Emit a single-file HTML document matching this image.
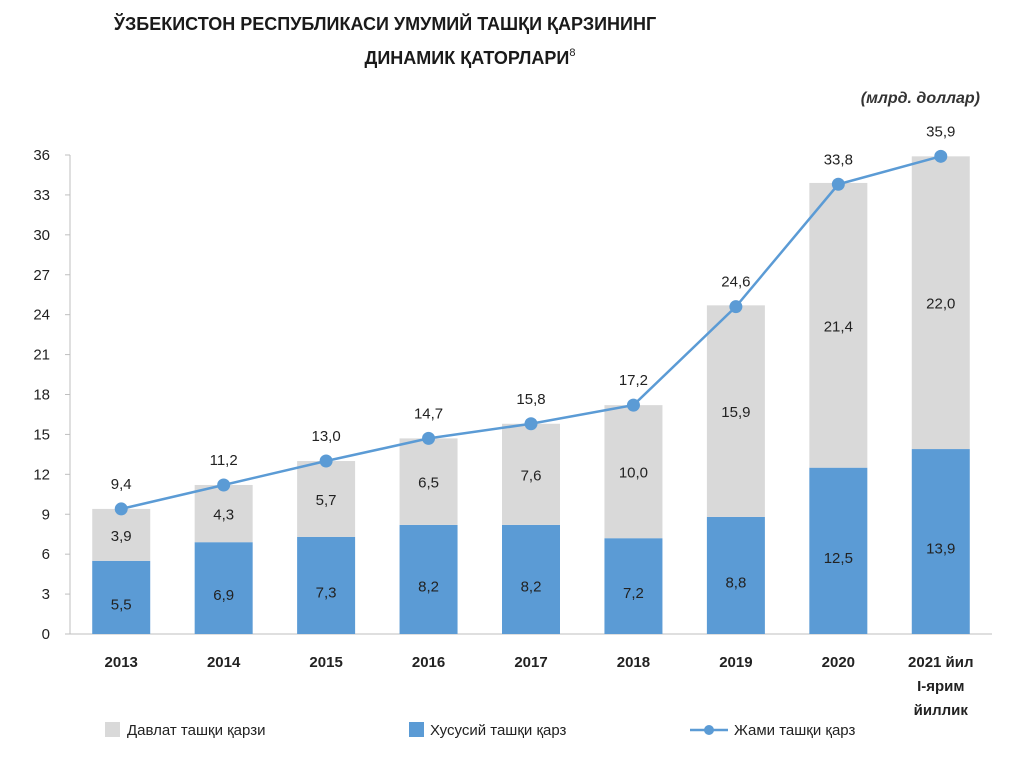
<!DOCTYPE html>
<html><head><meta charset="utf-8"><style>
body{margin:0;background:#fff;font-family:"Liberation Sans","DejaVu Sans",sans-serif;}
svg text{font-family:"Liberation Sans","DejaVu Sans",sans-serif;}
</style></head><body>
<svg id="chart" width="1024" height="765" viewBox="0 0 1024 765" xmlns="http://www.w3.org/2000/svg">
<text x="385" y="30" text-anchor="middle" font-size="18" font-weight="bold" fill="#1a1a1a">ЎЗБЕКИСТОН РЕСПУБЛИКАСИ УМУМИЙ ТАШҚИ ҚАРЗИНИНГ</text>
<text x="470" y="64" text-anchor="middle" font-size="18" font-weight="bold" fill="#1a1a1a">ДИНАМИК ҚАТОРЛАРИ<tspan font-size="11" dy="-8" font-weight="normal">8</tspan></text>
<text x="980" y="103" text-anchor="end" font-size="16" font-weight="bold" font-style="italic" fill="#333">(млрд. доллар)</text>
<g id="plot"></g>
<g>
<rect x="105" y="722" width="15" height="15" fill="#d9d9d9"/>
<text x="127" y="735" font-size="15" fill="#222">Давлат ташқи қарзи</text>
<rect x="409" y="722" width="15" height="15" fill="#5b9bd5"/>
<text x="430" y="735" font-size="15" fill="#222">Хусусий ташқи қарз</text>
<line x1="690" y1="730" x2="728" y2="730" stroke="#5b9bd5" stroke-width="2.5"/>
<circle cx="709" cy="730" r="5" fill="#5b9bd5"/>
<text x="734" y="735" font-size="15" fill="#222">Жами ташқи қарз</text>
</g>
</svg>
<script>
const categories=["2013","2014","2015","2016","2017","2018","2019","2020","2021 йил"];
const privateDebt=[5.5,6.9,7.3,8.2,8.2,7.2,8.8,12.5,13.9];
const stateDebt=[3.9,4.3,5.7,6.5,7.6,10.0,15.9,21.4,22.0];
const totalDebt=[9.4,11.2,13.0,14.7,15.8,17.2,24.6,33.8,35.9];
const yTicks=[0,3,6,9,12,15,18,21,24,27,30,33,36];
const NS="http://www.w3.org/2000/svg";
const g=document.getElementById('plot');
const left=70,right=992,y0=634,yTop=155,yMax=36;
const band=(right-left)/categories.length,bw=58;
const y=v=>y0-(v/yMax)*(y0-yTop);
const xc=i=>left+band*(i+0.5);
const fmt=v=>v.toFixed(1).replace('.',',');
function mk(tag,attrs,text){const e=document.createElementNS(NS,tag);for(const k in attrs)e.setAttribute(k,attrs[k]);if(text!==undefined)e.textContent=text;g.appendChild(e);return e;}
let ax=mk('line',{x1:left,y1:yTop,x2:left,y2:y0,stroke:'#bfbfbf'});


let bx=mk('line',{x1:left,y1:y0,x2:right,y2:y0,stroke:'#bfbfbf'});


yTicks.forEach(t=>{
 let tk=mk('line',{x1:left-5,y1:y(t),x2:left,y2:y(t),stroke:'#bfbfbf'});
 
 
 let tl=mk('text',{x:50,y:y(t)+5,'text-anchor':'end','font-size':15,fill:'#222'},String(t));
 
 
});
categories.forEach((c,i)=>{
 const x=xc(i);
 let b1=mk('rect',{x:x-bw/2,y:y(privateDebt[i]),width:bw,height:y0-y(privateDebt[i]),fill:'#5b9bd5'});
 
 
 const top=privateDebt[i]+stateDebt[i];
 let b2=mk('rect',{x:x-bw/2,y:y(top),width:bw,height:y(privateDebt[i])-y(top),fill:'#d9d9d9'});
 
 
 let l1=mk('text',{x:x,y:(y0+y(privateDebt[i]))/2+12,'text-anchor':'middle','font-size':15,fill:'#222'},fmt(privateDebt[i]));
 
 
 let l2=mk('text',{x:x,y:(y(privateDebt[i])+y(top))/2+6,'text-anchor':'middle','font-size':15,fill:'#222'},fmt(stateDebt[i]));
 
 
 let cl=mk('text',{x:x,y:667,'text-anchor':'middle','font-size':15,'font-weight':'bold',fill:'#222'},c);
 
 
});
let e1=mk('text',{x:xc(8),y:691,'text-anchor':'middle','font-size':15,'font-weight':'bold',fill:'#222'},'I-ярим');


let e2=mk('text',{x:xc(8),y:715,'text-anchor':'middle','font-size':15,'font-weight':'bold',fill:'#222'},'йиллик');


let pl=mk('polyline',{points:totalDebt.map((v,i)=>xc(i)+','+y(v)).join(' '),fill:'none',stroke:'#5b9bd5','stroke-width':2.5});


totalDebt.forEach((v,i)=>{
 let c=mk('circle',{cx:xc(i),cy:y(v),r:6.5,fill:'#5b9bd5'});
 
 
 let t=mk('text',{x:xc(i),y:y(v)-20,'text-anchor':'middle','font-size':15,fill:'#222'},fmt(v));
 
 
});
</script>
</body></html>
